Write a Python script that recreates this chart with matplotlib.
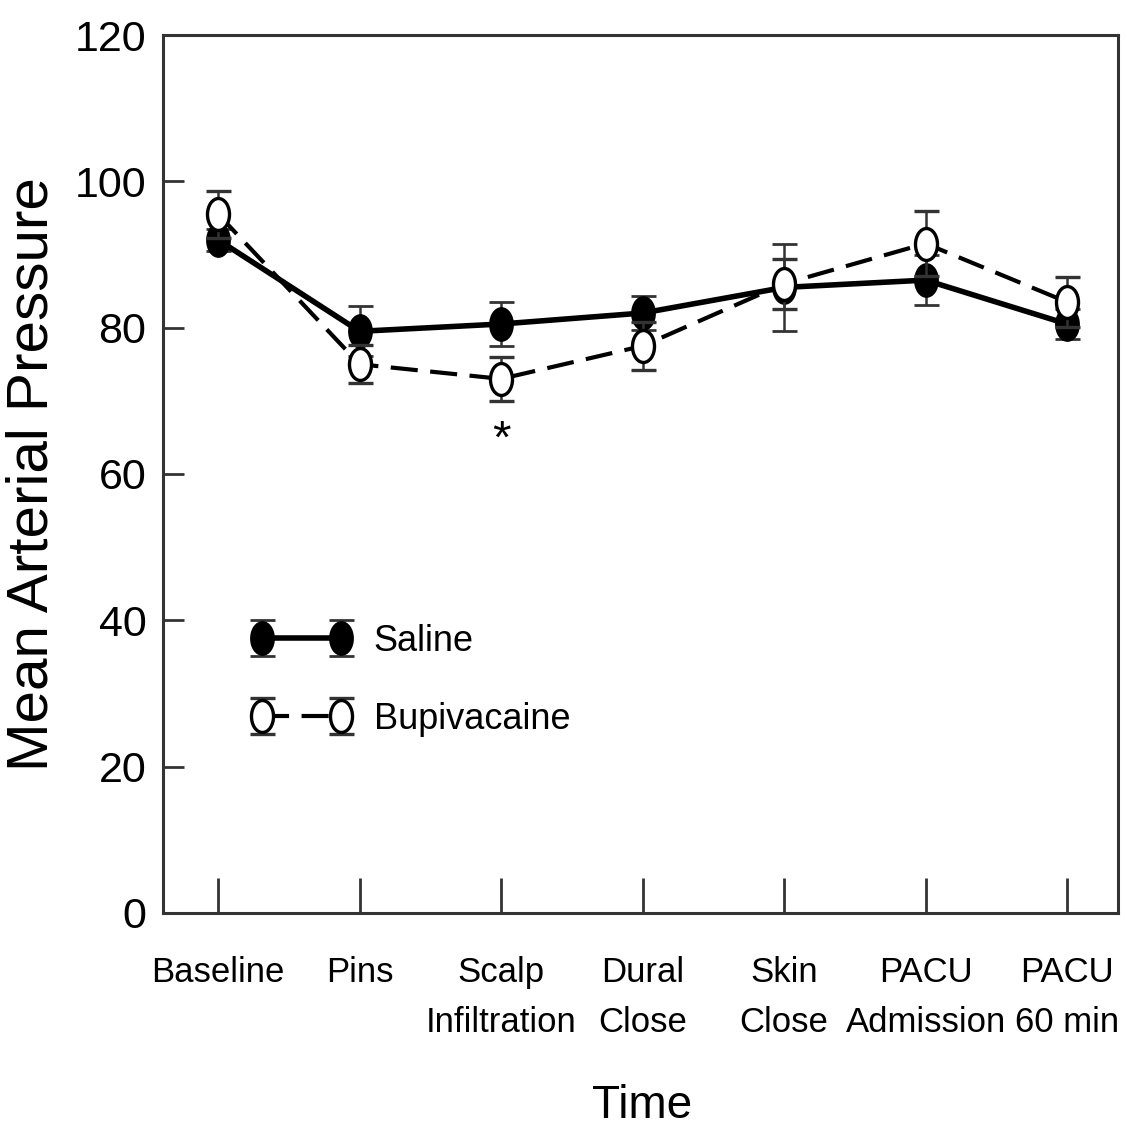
import matplotlib
matplotlib.use("Agg")
import matplotlib.pyplot as plt
from matplotlib.path import Path
import numpy as np

# Datos: presión arterial media por momento del procedimiento
momentos = ["Baseline", "Pins", "Scalp\nInfiltration", "Dural\nClose",
            "Skin\nClose", "PACU\nAdmission", "PACU\n60 min"]
salina = [92, 79.5, 80.5, 82, 85.5, 86.5, 80.5]
salina_err = [1.5, 3.4, 3.0, 2.3, 6.0, 3.4, 2.0]
bupi = [95.5, 75, 73, 77.5, 86, 91.5, 83.5]
bupi_err = [3.2, 2.6, 3.0, 3.3, 3.4, 4.4, 3.4]
yticks = [0, 20, 40, 60, 80, 100, 120]

fuente = ["Liberation Sans", "DejaVu Sans"]
gris = "#333333"

# marcador elíptico (más alto que ancho)
circ = Path.unit_circle()
elipse = Path(circ.vertices * np.array([1.0, 1.45]), circ.codes)

x = np.arange(len(momentos))

fig = plt.figure(figsize=(11.27, 11.33), dpi=100)
ax = fig.add_axes([0.1446, 0.1942, 0.8474, 0.7749])

sal = ax.errorbar(x, salina, yerr=salina_err, color="black", lw=4,
                  marker=elipse, ms=23, mfc="black", mec="black", mew=2,
                  ecolor=gris, elinewidth=1.8, capsize=9, capthick=2.2,
                  zorder=3, label="Saline")
bup = ax.errorbar(x, bupi, yerr=bupi_err, color="black", lw=3,
                  linestyle=(0, (6.5, 3)),
                  marker=elipse, ms=23, mfc="white", mec="black", mew=2.4,
                  ecolor=gris, elinewidth=1.8, capsize=9, capthick=2.2,
                  zorder=4, label="Bupivacaine")

# diferencia significativa en la infiltración
ax.text(2, 64.5, "*", ha="center", va="center", fontsize=34,
        family=fuente, color="black")

ax.set_xlim(-0.39, 6.36)
ax.set_ylim(0, 120)
ax.set_xticks(x)
ax.set_xticklabels(momentos, family=fuente, fontsize=25,
                   linespacing=1.65)
ax.set_yticks(yticks)
ax.set_yticklabels([str(v) for v in yticks], family=fuente, fontsize=31)
ax.tick_params(axis="x", direction="in", length=25, width=2, color=gris,
               pad=31)
ax.tick_params(axis="y", direction="in", length=15, width=2, color=gris,
               pad=12)
for s in ax.spines.values():
    s.set_linewidth(2.2)
    s.set_color(gris)

ax.set_ylabel("Mean Arterial Pressure", family=fuente, fontsize=42)
ax.yaxis.set_label_coords(-0.108, 0.5)
ax.set_xlabel("Time", family=fuente, fontsize=33)
ax.xaxis.set_label_coords(0.502, -0.195)

ax.legend(handles=[sal, bup], loc="upper left",
          bbox_to_anchor=(0.077, 0.346), numpoints=2, frameon=False,
          prop={"family": fuente, "size": 26}, handlelength=2.8,
          handletextpad=0.6, labelspacing=1.2, borderaxespad=0)

fig.savefig("out.png", dpi=100)
